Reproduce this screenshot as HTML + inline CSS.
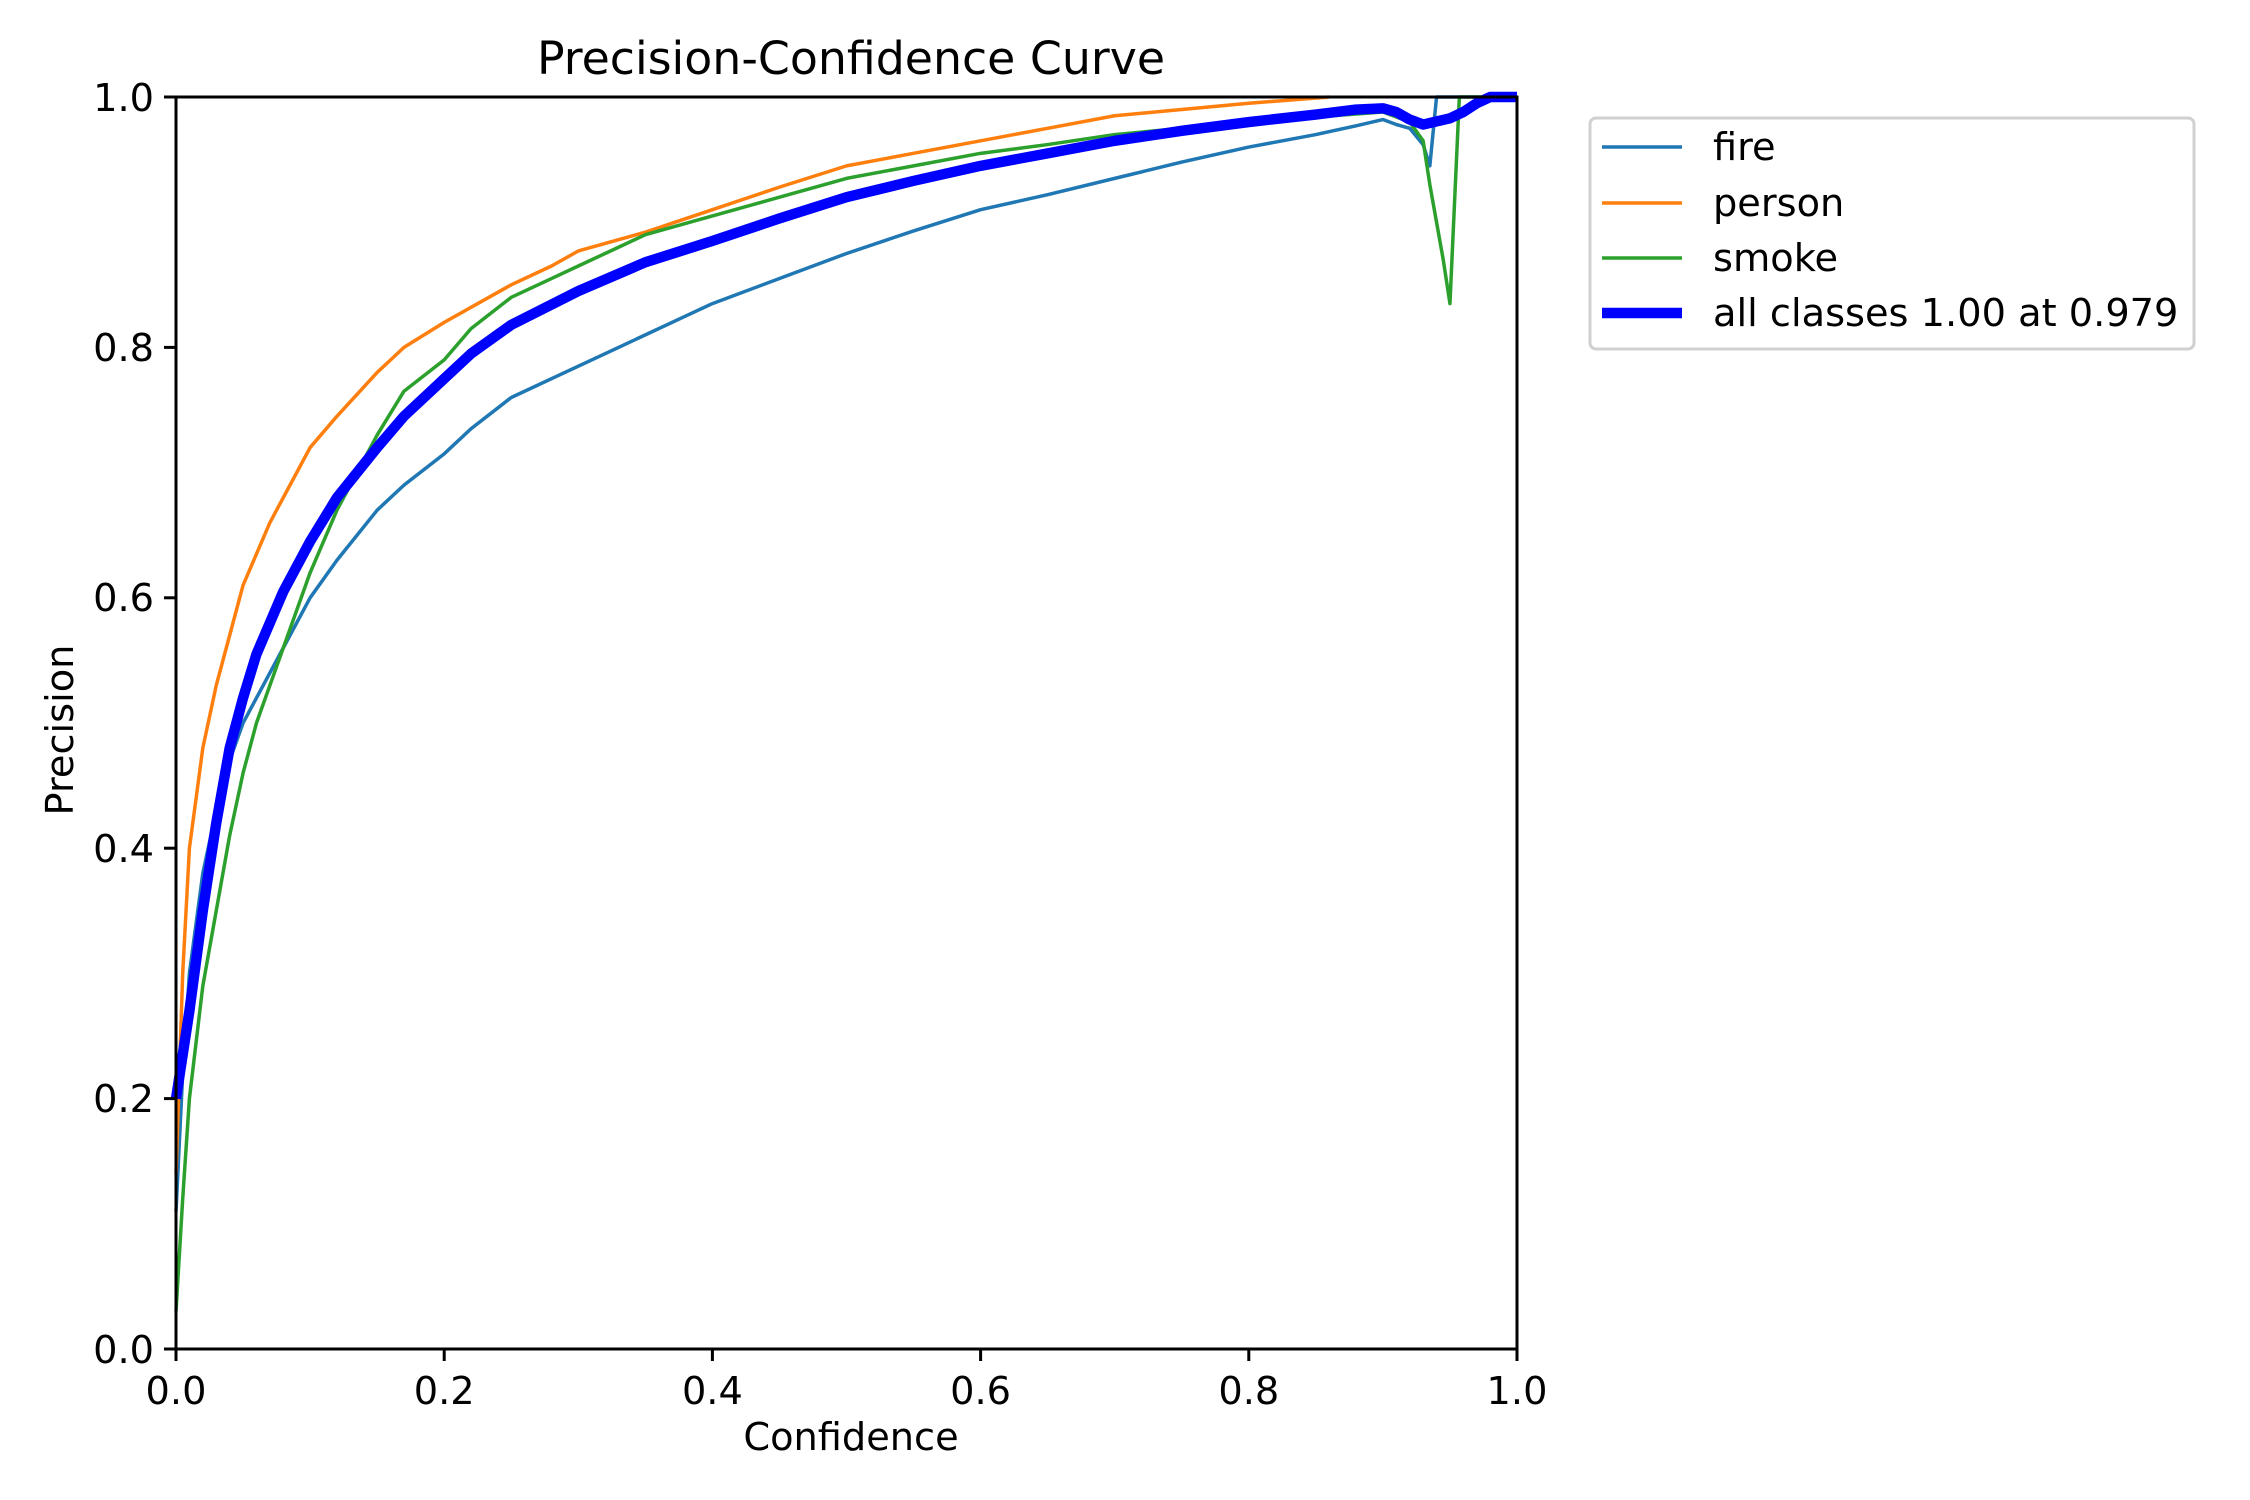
<!DOCTYPE html>
<html><head><meta charset="utf-8"><style>html,body{margin:0;padding:0;background:#fff}svg{display:block}text{font-family:"DejaVu Sans","Liberation Sans",sans-serif;fill:#000}</style></head>
<body>
<svg width="2250" height="1500" viewBox="0 0 2250 1500" xmlns="http://www.w3.org/2000/svg">
<rect width="2250" height="1500" fill="#fff"/>
<g transform="translate(176,1349) scale(1341,-1252)" fill="none" stroke-linejoin="round">
<polyline vector-effect="non-scaling-stroke" stroke="#1f77b4" stroke-width="3.5" points="0,0.11 0.005,0.22 0.01,0.3 0.02,0.38 0.03,0.43 0.04,0.47 0.05,0.5 0.065,0.53 0.08,0.56 0.1,0.6 0.12,0.63 0.15,0.67 0.17,0.69 0.2,0.715 0.22,0.735 0.25,0.76 0.28,0.775 0.3,0.785 0.33,0.8 0.35,0.81 0.38,0.825 0.4,0.835 0.45,0.855 0.5,0.875 0.55,0.893 0.6,0.91 0.65,0.922 0.7,0.935 0.75,0.948 0.8,0.96 0.85,0.97 0.88,0.977 0.9,0.982 0.91,0.978 0.92,0.975 0.93,0.962 0.935,0.945 0.94,1 1,1"/>
<polyline vector-effect="non-scaling-stroke" stroke="#ff7f0e" stroke-width="3.5" points="0,0.14 0.005,0.3 0.01,0.4 0.02,0.48 0.03,0.53 0.04,0.57 0.05,0.61 0.07,0.66 0.085,0.69 0.1,0.72 0.12,0.745 0.15,0.78 0.17,0.8 0.2,0.82 0.25,0.85 0.28,0.865 0.3,0.877 0.35,0.892 0.4,0.91 0.45,0.928 0.5,0.945 0.55,0.955 0.6,0.965 0.65,0.975 0.7,0.985 0.75,0.99 0.8,0.995 0.86,1"/>
<polyline vector-effect="non-scaling-stroke" stroke="#2ca02c" stroke-width="3.5" points="0,0.03 0.005,0.12 0.01,0.2 0.02,0.29 0.03,0.35 0.04,0.41 0.05,0.46 0.06,0.5 0.07,0.53 0.085,0.575 0.1,0.62 0.12,0.67 0.15,0.73 0.17,0.765 0.2,0.79 0.22,0.815 0.25,0.84 0.28,0.855 0.3,0.865 0.33,0.88 0.35,0.89 0.4,0.905 0.45,0.92 0.5,0.935 0.55,0.945 0.6,0.955 0.65,0.962 0.7,0.97 0.75,0.975 0.8,0.98 0.85,0.984 0.9,0.988 0.92,0.98 0.93,0.965 0.935,0.93 0.94,0.9 0.945,0.87 0.95,0.835 0.957,1 1,1"/>
<polyline vector-effect="non-scaling-stroke" stroke="#0000ff" stroke-width="10.4" points="0,0.2 0.01,0.27 0.02,0.35 0.03,0.42 0.04,0.48 0.05,0.52 0.06,0.555 0.08,0.605 0.1,0.645 0.12,0.68 0.15,0.72 0.17,0.745 0.2,0.775 0.22,0.795 0.25,0.818 0.3,0.845 0.35,0.868 0.4,0.885 0.45,0.903 0.5,0.92 0.55,0.933 0.6,0.945 0.65,0.955 0.7,0.965 0.75,0.973 0.8,0.98 0.85,0.986 0.88,0.99 0.9,0.991 0.91,0.988 0.92,0.982 0.93,0.978 0.95,0.983 0.96,0.988 0.97,0.995 0.98,1 1,1"/>
</g>
<rect x="176" y="97" width="1341" height="1252" fill="none" stroke="#000" stroke-width="3"/>
<g stroke="#000" stroke-width="3">
<line x1="176" y1="1349" x2="176" y2="1361"/><line x1="444.2" y1="1349" x2="444.2" y2="1361"/><line x1="712.4" y1="1349" x2="712.4" y2="1361"/><line x1="980.6" y1="1349" x2="980.6" y2="1361"/><line x1="1248.8" y1="1349" x2="1248.8" y2="1361"/><line x1="1517" y1="1349" x2="1517" y2="1361"/>
<line x1="164" y1="1349" x2="176" y2="1349"/><line x1="164" y1="1098.6" x2="176" y2="1098.6"/><line x1="164" y1="848.2" x2="176" y2="848.2"/><line x1="164" y1="597.8" x2="176" y2="597.8"/><line x1="164" y1="347.4" x2="176" y2="347.4"/><line x1="164" y1="97" x2="176" y2="97"/>
</g>
<g font-size="38.3" text-anchor="middle">
<text x="176" y="1404">0.0</text><text x="444.2" y="1404">0.2</text><text x="712.4" y="1404">0.4</text><text x="980.6" y="1404">0.6</text><text x="1248.8" y="1404">0.8</text><text x="1517" y="1404">1.0</text>
</g>
<g font-size="38.3" text-anchor="end">
<text x="154" y="1363">0.0</text><text x="154" y="1112">0.2</text><text x="154" y="862">0.4</text><text x="154" y="611">0.6</text><text x="154" y="361">0.8</text><text x="154" y="111">1.0</text>
</g>
<text x="851" y="1450" font-size="38.3" text-anchor="middle">Confidence</text>
<text transform="translate(73,730) rotate(-90)" font-size="38.3" text-anchor="middle">Precision</text>
<text x="851" y="74" font-size="45.8" text-anchor="middle">Precision-Confidence Curve</text>
<rect x="1590" y="118" width="604" height="231" rx="6" fill="#fff" stroke="#d0d0d0" stroke-width="3"/>
<line x1="1602" y1="147" x2="1682" y2="147" stroke="#1f77b4" stroke-width="3.5"/>
<line x1="1602" y1="203" x2="1682" y2="203" stroke="#ff7f0e" stroke-width="3.5"/>
<line x1="1602" y1="258" x2="1682" y2="258" stroke="#2ca02c" stroke-width="3.5"/>
<line x1="1602" y1="313" x2="1682" y2="313" stroke="#0000ff" stroke-width="10.4"/>
<g font-size="38.3">
<text x="1713" y="160">fire</text><text x="1713" y="216">person</text><text x="1713" y="271">smoke</text><text x="1713" y="326">all classes 1.00 at 0.979</text>
</g>
</svg>
</body></html>
